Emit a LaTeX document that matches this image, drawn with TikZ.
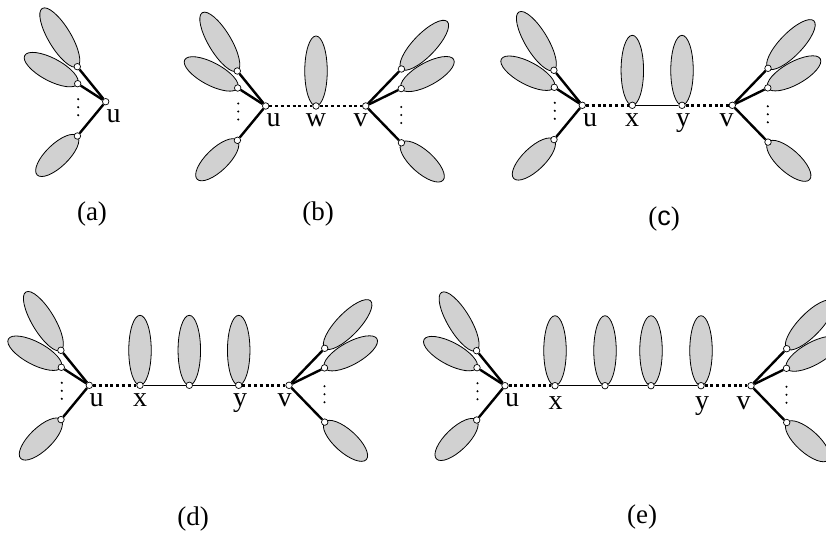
\documentclass[tikz,border=0pt]{standalone}
\usepackage{fontspec}
\setmainfont{Liberation Serif}
\newfontfamily\sansf{Liberation Sans}
\usetikzlibrary{shapes.geometric}
\pgfdeclarelayer{bg}\pgfdeclarelayer{mid}\pgfsetlayers{bg,mid,main}
\tikzset{
 vtx/.style={circle,draw,fill=white,line width=0.7pt,minimum size=6.5pt,inner sep=0pt},
 leafell/.style={ellipse,draw,fill=black!18,line width=0.8pt,minimum height=22.5pt,inner sep=0pt},
 stem/.style={line width=2.4pt},
 thinedge/.style={line width=0.9pt},
 dotedge/.style={line width=2.7pt,dash pattern=on 3pt off 2.8pt},
 lab/.style={font=\fontsize{28}{30}\selectfont, anchor=base, inner sep=0pt},
 plab/.style={font=\fontsize{27}{29}\selectfont, inner sep=0pt},
 vd/.style={circle,fill,inner sep=0pt,minimum size=2.3pt}
}
% leaf: hub, name, dx, dy, angle, half length
\newcommand\leafat[6]{%
  \path (#1) ++(#3,#4) node[vtx] (#2) {};
  \begin{pgfonlayer}{bg}\path (#2) ++(#5:#6) node[leafell,minimum width={2*#6},rotate=#5] (#2e) {};\end{pgfonlayer}
  \begin{pgfonlayer}{mid}\draw[stem] (#1) -- (#2);\end{pgfonlayer}
}
\newcommand\leftstar[1]{%
  \leafat{#1}{#1a}{-28.4}{35}{121}{34}
  \leafat{#1}{#1b}{-28}{18}{152}{30}
  \leafat{#1}{#1c}{-28.3}{-34.3}{224}{28}
  \path (#1) ++(-27.5,2.5) node[vd] (#1d1) {} ++(0,-8) node[vd] (#1d2) {} ++(0,-8) node[vd] (#1d3) {};
}
\newcommand\rightstar[1]{%
  \leafat{#1}{#1a}{35.7}{37}{46}{33}
  \leafat{#1}{#1b}{35.5}{17.4}{29}{30}
  \leafat{#1}{#1c}{35.7}{-36.8}{-42}{28}
  \path (#1) ++(35.5,-1) node[vd] (#1d1) {} ++(0,-8) node[vd] (#1d2) {} ++(0,-8) node[vd] (#1d3) {};
}
\newcommand\vleaf[1]{%
  \begin{pgfonlayer}{bg}\path (#1) ++(90:35) node[leafell,minimum width=70,rotate=90] (#1e) {};\end{pgfonlayer}
}
\begin{document}
\begin{tikzpicture}[x=1pt,y=1pt]
\useasboundingbox (0,0) rectangle (826,-534);
\clip (0,0) rectangle (826,-534);
% ---------- (a)
\node[vtx] (au) at (105.7,-101.7) {};
\leftstar{au}
\node[lab] (aul) at (113.7,-122.7) {u};
\node[plab] (acap) at (92,-214) {(a)};
% ---------- (b)
\node[vtx] (bu) at (265.7,-106) {};
\node[vtx] (bw) at (316,-106) {};
\node[vtx] (bv) at (365.7,-106) {};
\leftstar{bu}
\rightstar{bv}
\vleaf{bw}
\begin{pgfonlayer}{mid}
\draw[dotedge] (bu) -- (bw);
\draw[dotedge] (bw) -- (bv);
\end{pgfonlayer}
\node[lab] (bul) at (273.5,-127) {u};
\node[lab] (bwl) at (316,-127) {w};
\node[lab] (bvl) at (360.5,-127) {v};
\node[plab] (bcap) at (318,-214) {(b)};
% ---------- (c)
\node[vtx] (cu) at (582.3,-105.3) {};
\node[vtx] (cx) at (632.3,-105.3) {};
\node[vtx] (cy) at (682,-105.3) {};
\node[vtx] (cv) at (732.3,-105.3) {};
\leftstar{cu}
\rightstar{cv}
\vleaf{cx}
\vleaf{cy}
\begin{pgfonlayer}{mid}
\draw[dotedge] (cu) -- (cx);
\draw[thinedge] (cx) -- (cy);
\draw[dotedge] (cy) -- (cv);
\end{pgfonlayer}
\node[lab] (cul) at (590,-126.3) {u};
\node[lab] (cxl) at (632,-126.3) {x};
\node[lab] (cyl) at (683,-126.3) {y};
\node[lab] (cvl) at (726.5,-126.3) {v};
\node[plab] (ccap) at (664,-219) {({\sansf c})};
% ---------- (d)
\node[vtx] (du) at (89.3,-385.3) {};
\node[vtx] (dx) at (140,-385.3) {};
\node[vtx] (dm) at (189.3,-385.3) {};
\node[vtx] (dy) at (238.7,-385.3) {};
\node[vtx] (dv) at (289,-385.3) {};
\leftstar{du}
\rightstar{dv}
\vleaf{dx}
\vleaf{dm}
\vleaf{dy}
\begin{pgfonlayer}{mid}
\draw[dotedge] (du) -- (dx);
\draw[thinedge] (dx) -- (dm);
\draw[thinedge] (dm) -- (dy);
\draw[dotedge] (dy) -- (dv);
\end{pgfonlayer}
\node[lab] (dul) at (96.5,-406.3) {u};
\node[lab] (dxl) at (140,-406.3) {x};
\node[lab] (dyl) at (240,-406.3) {y};
\node[lab] (dvl) at (284.5,-406.3) {v};
\node[plab] (dcap) at (193,-519) {(d)};
% ---------- (e)
\node[vtx] (eu) at (505,-385.7) {};
\node[vtx] (ex) at (555,-385.7) {};
\node[vtx] (ep) at (605,-385.7) {};
\node[vtx] (eq) at (651,-385.7) {};
\node[vtx] (ey) at (701,-385.7) {};
\node[vtx] (ev) at (751,-385.7) {};
\leftstar{eu}
\rightstar{ev}
\vleaf{ex}
\vleaf{ep}
\vleaf{eq}
\vleaf{ey}
\begin{pgfonlayer}{mid}
\draw[dotedge] (eu) -- (ex);
\draw[thinedge] (ex) -- (ep);
\draw[thinedge] (ep) -- (eq);
\draw[thinedge] (eq) -- (ey);
\draw[dotedge] (ey) -- (ev);
\end{pgfonlayer}
\node[lab] (eul) at (512,-406.7) {u};
\node[lab] (exl) at (555.5,-409.5) {x};
\node[lab] (eyl) at (702,-409.5) {y};
\node[lab] (evl) at (743.5,-409.5) {v};
\node[plab] (ecap) at (642,-517) {(e)};
\end{tikzpicture}
\end{document}
